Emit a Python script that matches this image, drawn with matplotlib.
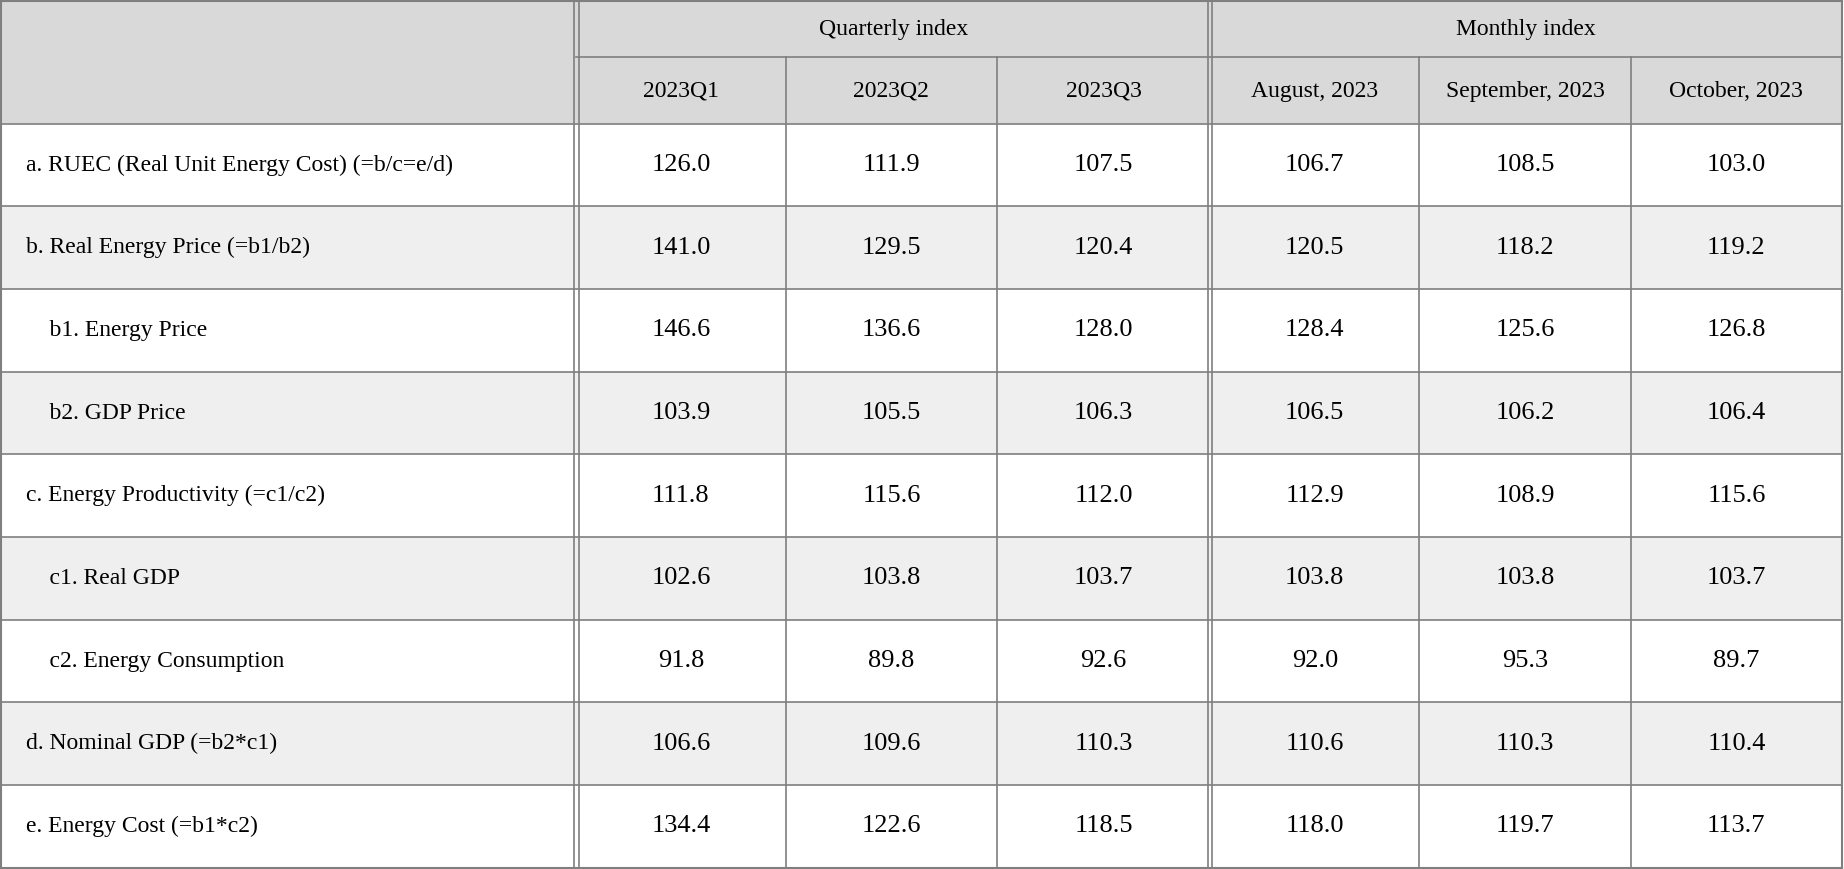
import matplotlib.pyplot as plt
from matplotlib.patches import Rectangle

plt.rcParams["font.family"] = "serif"
plt.rcParams["font.serif"] = ["Liberation Serif", "DejaVu Serif"]

row_labels = [
    "a. RUEC (Real Unit Energy Cost) (=b/c=e/d)",
    "b. Real Energy Price (=b1/b2)",
    "    b1. Energy Price",
    "    b2. GDP Price",
    "c. Energy Productivity (=c1/c2)",
    "    c1. Real GDP",
    "    c2. Energy Consumption",
    "d. Nominal GDP (=b2*c1)",
    "e. Energy Cost (=b1*c2)",
]
group_labels = ["Quarterly index", "Monthly index"]
col_labels = ["2023Q1", "2023Q2", "2023Q3", "August, 2023", "September, 2023", "October, 2023"]
values = [
    [126.0, 111.9, 107.5, 106.7, 108.5, 103.0],
    [141.0, 129.5, 120.4, 120.5, 118.2, 119.2],
    [146.6, 136.6, 128.0, 128.4, 125.6, 126.8],
    [103.9, 105.5, 106.3, 106.5, 106.2, 106.4],
    [111.8, 115.6, 112.0, 112.9, 108.9, 115.6],
    [102.6, 103.8, 103.7, 103.8, 103.8, 103.7],
    [91.8, 89.8, 92.6, 92.0, 95.3, 89.7],
    [106.6, 109.6, 110.3, 110.6, 110.3, 110.4],
    [134.4, 122.6, 118.5, 118.0, 119.7, 113.7],
]

W, H = 1568, 738
col_x = [490, 668, 848, 1029, 1207, 1387, 1566]
h0, h1 = 48, 105
row_h = (737 - h1) / len(row_labels)
line_c = "#7f7f7f"
lab_fs, num_fs = 17, 19

fig = plt.figure(figsize=(18.44, 8.69), dpi=100)
ax = fig.add_axes([0, 0, 1, 1])
ax.set_xlim(0, W)
ax.set_ylim(H, 0)
ax.axis("off")

# header background
ax.add_patch(Rectangle((1, 1), W - 3, h1 - 1, color="#d9d9d9", lw=0))
for i, lab in enumerate(row_labels):
    y = h1 + i * row_h
    ax.add_patch(Rectangle((1, y), W - 3, row_h, color="white" if i % 2 == 0 else "#efefef", lw=0))
    ax.text(22, y + row_h / 2, lab, fontsize=lab_fs, va="center", ha="left")
    for j, v in enumerate(values[i]):
        ax.text((col_x[j] + col_x[j + 1]) / 2, y + row_h / 2, f"{v:.1f}",
                fontsize=num_fs, va="center", ha="center")
    ax.plot([1, W - 2], [y, y], color=line_c, lw=1.2)
ax.plot([1, W - 2], [737, 737], color=line_c, lw=1.5)
ax.plot([1, W - 2], [1, 1], color=line_c, lw=1.5)
ax.plot([col_x[0], W - 2], [h0, h0], color=line_c, lw=1.2)

ax.text((col_x[0] + col_x[3]) / 2, h0 / 2 + 1, group_labels[0], fontsize=lab_fs, ha="center", va="center")
ax.text((col_x[3] + col_x[6]) / 2, h0 / 2 + 1, group_labels[1], fontsize=lab_fs, ha="center", va="center")
for j, lab in enumerate(col_labels):
    ax.text((col_x[j] + col_x[j + 1]) / 2, (h0 + h1) / 2 + 1, lab, fontsize=lab_fs, ha="center", va="center")

# vertical lines
ax.plot([1, 1], [1, 737], color=line_c, lw=1.5)
ax.plot([W - 2, W - 2], [1, 737], color=line_c, lw=1.5)
for x in (col_x[0], col_x[3]):
    ax.plot([x - 2, x - 2], [1, 737], color=line_c, lw=1.2)
    ax.plot([x + 2, x + 2], [1, 737], color=line_c, lw=1.2)
for x in (col_x[1], col_x[2], col_x[4], col_x[5]):
    ax.plot([x, x], [h0, 737], color=line_c, lw=1.2)

fig.savefig("out.png", dpi=100)
